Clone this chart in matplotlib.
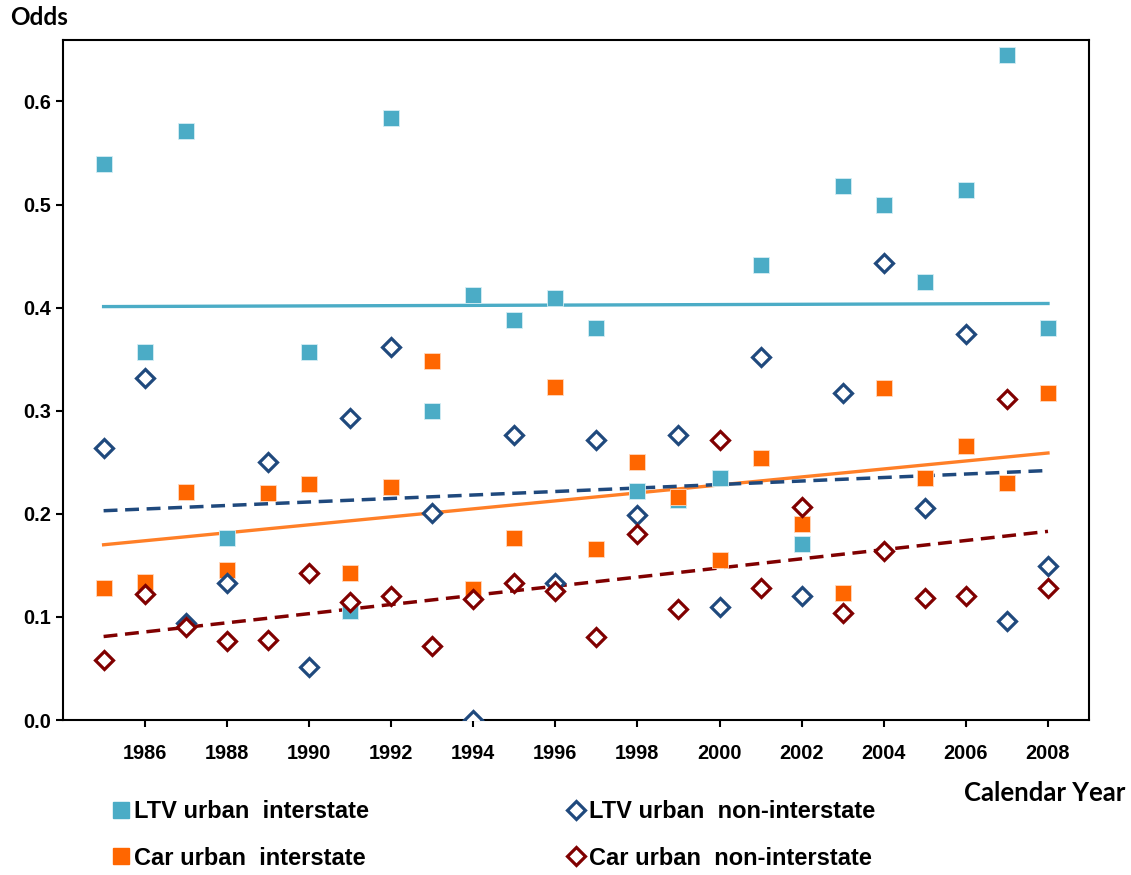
import numpy as np
import matplotlib
matplotlib.use("Agg")
import matplotlib.pyplot as plt
from matplotlib.lines import Line2D

years = list(range(1985, 2009))

# odds by calendar year (1989 LTV urban interstate not shown on chart)
ltv_interstate = [0.539, 0.357, 0.571, 0.177, np.nan, 0.357, 0.106, 0.584, 0.300, 0.412, 0.388, 0.409,
                  0.380, 0.222, 0.213, 0.235, 0.441, 0.171, 0.518, 0.500, 0.425, 0.514, 0.645, 0.380]
car_interstate = [0.128, 0.134, 0.221, 0.146, 0.220, 0.229, 0.143, 0.226, 0.348, 0.127, 0.177, 0.323,
                  0.166, 0.250, 0.216, 0.155, 0.254, 0.190, 0.123, 0.322, 0.235, 0.266, 0.230, 0.317]
ltv_non_interstate = [0.264, 0.332, 0.094, 0.133, 0.250, 0.051, 0.293, 0.362, 0.201, 0.000, 0.276, 0.133,
                      0.272, 0.199, 0.276, 0.110, 0.352, 0.120, 0.317, 0.4435, 0.206, 0.374, 0.096, 0.149]
car_non_interstate = [0.058, 0.122, 0.090, 0.077, 0.078, 0.143, 0.114, 0.120, 0.072, 0.117, 0.133, 0.125,
                      0.081, 0.180, 0.108, 0.272, 0.128, 0.207, 0.104, 0.164, 0.118, 0.120, 0.311, 0.128]

# linear trend lines, value at first and last year
trend_years = [1985, 2008]
ltv_interstate_trend = [0.401, 0.404]
car_interstate_trend = [0.170, 0.259]
ltv_non_interstate_trend = [0.203, 0.242]
car_non_interstate_trend = [0.081, 0.183]

c_ltv_int = '#4BACC6'
c_car_int = '#FF6600'
c_ltv_non = '#1F497D'
c_car_non = '#800000'

fig = plt.figure(figsize=(11.31, 8.75), dpi=100)
ax = fig.add_axes([0.0553, 0.1771, 0.9076, 0.7777])

dash = (0, (4, 2.2))
ax.plot(trend_years, ltv_interstate_trend, color=c_ltv_int, lw=2.4, zorder=2)
ax.plot(trend_years, car_interstate_trend, color='#FF7F27', lw=2.4, zorder=2)
ax.plot(trend_years, ltv_non_interstate_trend, color=c_ltv_non, lw=2.5, ls=dash, zorder=2)
ax.plot(trend_years, car_non_interstate_trend, color=c_car_non, lw=2.5, ls=dash, zorder=2)

ax.plot(years, ltv_interstate, 's', ms=12, color=c_ltv_int, mec='#D6EEF4', mew=0.6, zorder=3)
ax.plot(years, car_interstate, 's', ms=12, color=c_car_int, mec='#FFD9BF', mew=0.6, zorder=3)
ax.plot(years, ltv_non_interstate, 'D', ms=9.5, mfc='white', mec=c_ltv_non, mew=2.3, zorder=4)
ax.plot(years, car_non_interstate, 'D', ms=9.5, mfc='white', mec=c_car_non, mew=2.3, zorder=4)

ax.set_xlim(1984, 2009)
ax.set_ylim(0, 0.66)
ax.set_xticks(range(1986, 2009, 2))
ax.set_yticks(np.arange(0, 0.61, 0.1))
ax.set_yticklabels(['0.0', '0.1', '0.2', '0.3', '0.4', '0.5', '0.6'])

for s in ax.spines.values():
    s.set_linewidth(1.5)
ax.tick_params(direction='out', length=5, width=1.5, labelsize=14.3)
ax.tick_params(axis='x', pad=12)
ax.tick_params(axis='y', pad=3.5)
for lab in ax.get_xticklabels() + ax.get_yticklabels():
    lab.set_fontweight('bold')
    lab.set_family('Liberation Sans')

fig.text(0.009, 0.98, 'Odds', fontsize=17.5, fontweight='bold', family='Lato', va='center', ha='left')
fig.text(0.995, 0.0937, 'Calendar Year', fontsize=18.5, fontweight='bold', family='Lato',
         va='center', ha='right')

h1 = [Line2D([], [], ls='none', marker='s', ms=11.5, color=c_ltv_int),
      Line2D([], [], ls='none', marker='s', ms=11.5, color=c_car_int)]
h2 = [Line2D([], [], ls='none', marker='D', ms=9, mfc='white', mec=c_ltv_non, mew=2.3),
      Line2D([], [], ls='none', marker='D', ms=9, mfc='white', mec=c_car_non, mew=2.3)]
prop = {'family': 'Liberation Sans', 'weight': 'bold', 'size': 17}
common = dict(loc='upper left', frameon=False, prop=prop, handlelength=0.7, handletextpad=0.2,
              labelspacing=1.0, borderaxespad=0, borderpad=0)
fig.legend(h1, ['LTV urban  interstate', 'Car urban  interstate'],
           bbox_to_anchor=(112.7 / 1131, 0.0857), **common)
fig.legend(h2, ['LTV urban  non-interstate', 'Car urban  non-interstate'],
           bbox_to_anchor=(567.7 / 1131, 0.0857), **common)

fig.savefig('out.png', dpi=100)
